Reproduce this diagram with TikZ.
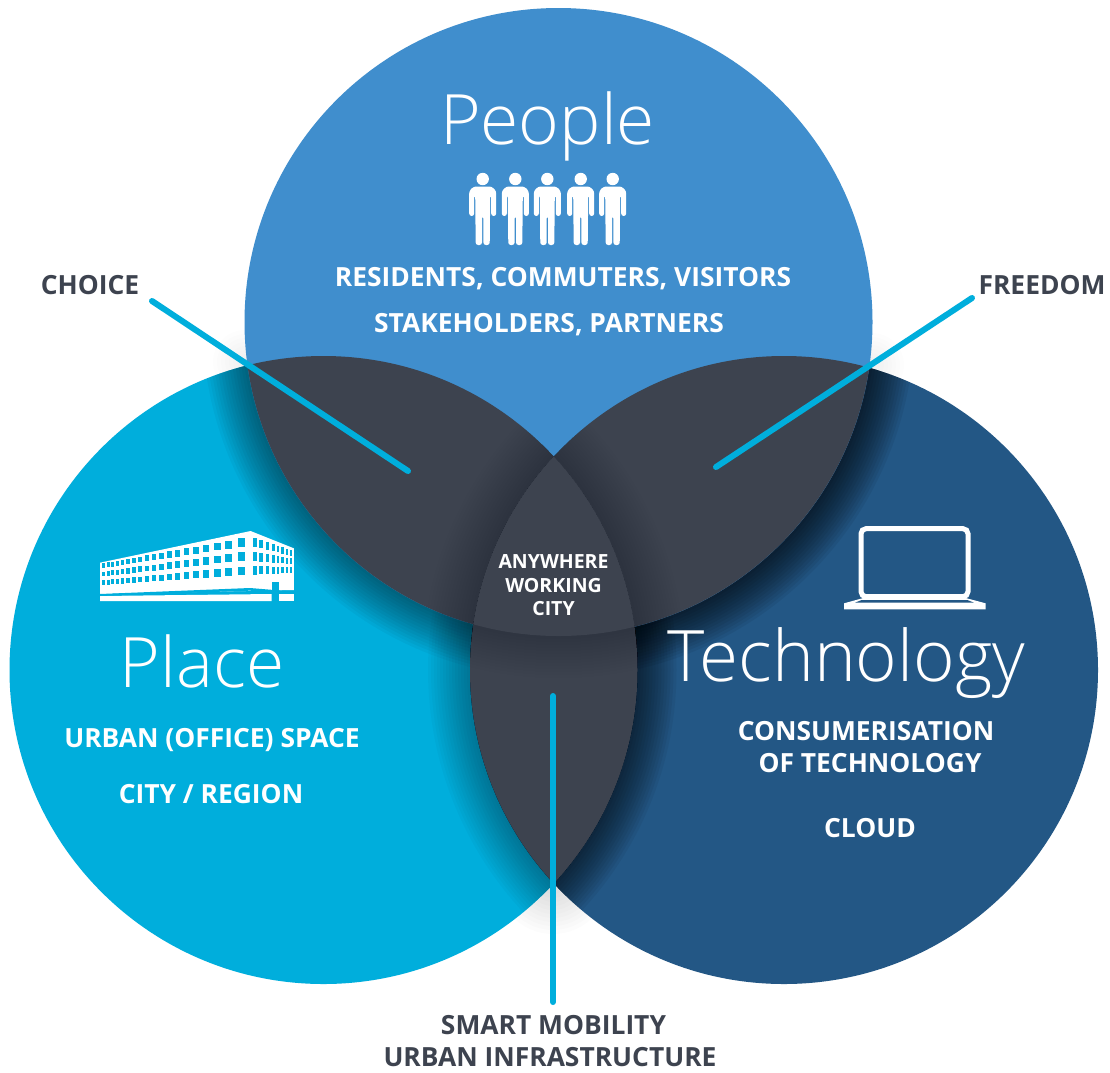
\documentclass[tikz,border=0pt]{standalone}
\usepackage{fontspec}
\setmainfont{Open Sans}
\newfontfamily\lightfont{Open Sans Light}
\usetikzlibrary{calc}
\definecolor{placecol}{HTML}{00AEDC}
\definecolor{techcol}{HTML}{235785}
\definecolor{peoplecol}{HTML}{408ECD}
\definecolor{darkcol}{HTML}{3D434F}
\definecolor{labelcol}{HTML}{3D434F}
\def\rr{314}
\def\people{(558.5,322)}
\def\place{(323.5,670)}
\def\tech{(784,670)}
\newcommand{\shadowfrom}[3]{% centre, steps, opacity per step
  \foreach \k in {#2,...,1}{\fill[black,opacity=#3] #1 circle[radius={(\rr+\k*3)*1pt}];}}
\tikzset{
  disc/.style={radius=314pt},
  link/.style={draw=placecol,line width=6pt,line cap=round},
  head/.style={text=white,inner sep=0pt,anchor=base},
  body/.style={font=\fontsize{26.4}{26.4}\bfseries,text=white,inner sep=0pt,anchor=base},
  outer/.style={font=\fontsize{26.4}{26.4}\bfseries,text=labelcol,inner sep=0pt,anchor=base},
  inner/.style={font=\fontsize{19.5}{19.5}\bfseries,text=white,inner sep=0pt,anchor=base},
  person/.pic={
    \fill[white] (0,-66) circle[radius=6.2pt];
    \fill[white,rounded corners=2.5pt] (-13.5,-47) -- (-13.5,-54) -- (-9,-58.5) -- (9,-58.5) -- (13.5,-54) -- (13.5,-29) -- (8.5,-29) -- (8.5,-50) -- (7.5,-50) -- (7,0) -- (0.7,0) -- (0.7,-29) -- (-0.7,-29) -- (-0.7,0) -- (-7,0) -- (-7.5,-50) -- (-8.5,-50) -- (-8.5,-29) -- (-13.5,-29) -- cycle;
  }
}
\begin{document}
\begin{tikzpicture}[x=1pt,y=-1pt]
\useasboundingbox (0,0) rectangle (1110,1072);
\fill[white] (0,0) rectangle (1110,1072);
% soft shadows on the white ground at the tips
\foreach \k in {1,...,14}{\fill[black,opacity=0.012] (553,878) circle[radius={(4*\k)*1pt}];}
\foreach \k in {1,...,8}{\fill[black,opacity=0.006] (872,365) circle[radius={(4*\k)*1pt}];}
\foreach \k in {1,...,8}{\fill[black,opacity=0.006] (245,362) circle[radius={(4*\k)*1pt}];}
% base discs
\fill[placecol] \place circle[disc];
\fill[techcol] \tech circle[disc];
\begin{scope}\clip \tech circle[disc]; \shadowfrom{\people}{14}{0.06} \shadowfrom{\place}{13}{0.05}\end{scope}
\begin{scope}\clip \place circle[disc]; \shadowfrom{\people}{14}{0.035} \shadowfrom{\tech}{14}{0.022}\end{scope}
\fill[peoplecol] \people circle[disc];
% pairwise overlaps
\begin{scope}\clip \people circle[disc]; \clip \place circle[disc];
 \fill[darkcol] (0,0) rectangle (1110,1072); \shadowfrom{\tech}{16}{0.0115}\end{scope}
\begin{scope}\clip \people circle[disc]; \clip \tech circle[disc];
 \fill[darkcol] (0,0) rectangle (1110,1072); \shadowfrom{\place}{16}{0.0115}\end{scope}
\begin{scope}\clip \place circle[disc]; \clip \tech circle[disc];
 \fill[darkcol] (0,0) rectangle (1110,1072); \shadowfrom{\people}{14}{0.008}\end{scope}
% centre
\begin{scope}\clip \people circle[disc]; \clip \place circle[disc]; \clip \tech circle[disc];
 \fill[darkcol] (0,0) rectangle (1110,1072);\end{scope}
% texts
\node[head,font=\fontsize{69.5}{69.5}\lightfont] (tpeople) at (547.5,144) {People};
\node[head,font=\fontsize{69.5}{69.5}\lightfont] (tplace) at (202,687) {Place};
\node[head,font=\fontsize{71}{71}\lightfont] (ttech) at (846,681) {Technology};
\node[body] (p1) at (563,286) {RESIDENTS, COMMUTERS, VISITORS};
\node[body] (p2) at (549,332) {STAKEHOLDERS, PARTNERS};
\node[body] (l1) at (212,747) {URBAN (OFFICE) SPACE};
\node[body] (l2) at (211,803) {CITY / REGION};
\node[body] (t1) at (866,740) {CONSUMERISATION};
\node[body] (t2) at (870,772) {OF TECHNOLOGY};
\node[body] (t3) at (870,837) {CLOUD};
\node[inner] (c1) at (553.5,568) {ANYWHERE};
\node[inner] (c2) at (553.5,592) {WORKING};
\node[inner] (c3) at (553.5,615) {CITY};
\node[outer] (choice) at (90,294) {CHOICE};
\node[outer] (freedom) at (1042,294) {FREEDOM};
\node[outer] (sm) at (553.5,1034) {SMART MOBILITY};
\node[outer] (ui) at (550,1066) {URBAN INFRASTRUCTURE};
% connectors
\coordinate (a1) at (152,301); \coordinate (a2) at (408,471);
\coordinate (b1) at (972,298); \coordinate (b2) at (716,467);
\coordinate (c1e) at (553,696); \coordinate (c2e) at (553,1002);
\draw[link] (a1) -- (a2);
\draw[link] (b1) -- (b2);
\draw[link] (c1e) -- (c2e);
% people icons
\foreach \px in {482.7,515.3,547.3,580.7,612.7}{\pic at (\px,245) {person};}
% building (3x zoom coordinates)
\begin{scope}[shift={(90,520)},x=0.3333pt,y=-0.3333pt]
 \fill[white] (30,128) -- (482,33) -- (612,85) -- (612,210) -- (30,222) -- cycle;
 \fill[white] (30,228) -- (545,222) -- (545,243) -- (30,243) -- cycle;
 \fill[white] (568,222) -- (612,222) -- (612,243) -- (568,243) -- cycle;
 \fill[placecol] (30,222) -- (480,204) -- (612,215) -- (612,222) -- (480,212) -- (30,228) -- cycle;
 \fill[placecol] (545,185) rectangle (568,243);
 \foreach \x/\w [evaluate=\x as \t using (\x-35)/408] in {35/9,50/9,63/10,78/10,92/10,108/11,126/12,145/12,165/13,186/13,207/15,231/15,255/16,281/17,308/18,338/20,371/21,405/22,443/23}{
   \pgfmathsetmacro\yA{130-75*\t}\pgfmathsetmacro\hA{14+11*\t}
   \pgfmathsetmacro\yB{155-58*\t}
   \pgfmathsetmacro\yC{181-41*\t}
   \fill[placecol] (\x,\yA) rectangle ++(\w,\hA);
   \fill[placecol] (\x,\yB) rectangle ++(\w,\hA);
   \fill[placecol] (\x,\yC) rectangle ++(\w,\hA);
 }
 \foreach \x/\w [evaluate=\x as \t using (\x-488)/112] in {488/12,508/11,527/10,545/9,560/8,574/8,588/7,600/7}{
   \pgfmathsetmacro\yA{54+36*\t}\pgfmathsetmacro\hA{26-9*\t}
   \pgfmathsetmacro\yB{97+18*\t}
   \pgfmathsetmacro\yC{138+4*\t}
   \fill[placecol] (\x,\yA) rectangle ++(\w,\hA);
   \fill[placecol] (\x,\yB) rectangle ++(\w,\hA);
   \fill[placecol] (\x,\yC) rectangle ++(\w,\hA);
 }
\end{scope}
% laptop (3x zoom coordinates)
\begin{scope}[shift={(830,510)},x=0.3333pt,y=-0.3333pt]
 \draw[white,line width=5pt,rounded corners=5pt] (93,56) rectangle (414,260);
 \fill[white] (42,280) -- (100,264) -- (407,264) -- (467,280) -- (467,298) -- (42,298) -- cycle;
 \fill[techcol] (75,278) -- (432,278) -- (412,270) -- (95,270) -- cycle;
\end{scope}
\end{tikzpicture}
\end{document}
